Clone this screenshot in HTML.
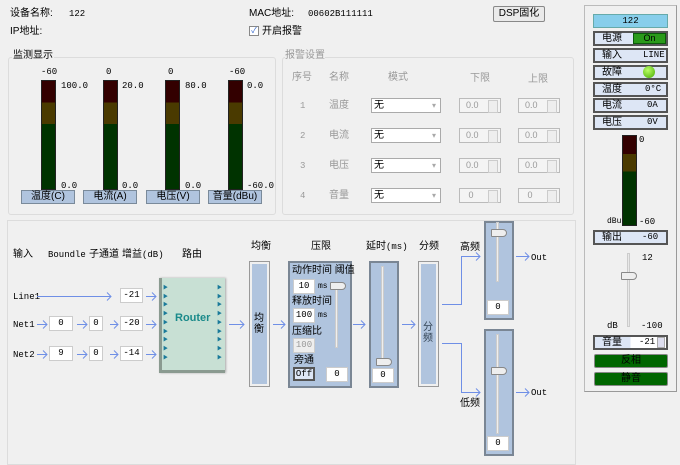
<!DOCTYPE html>
<html><head><meta charset="utf-8"><style>
*{margin:0;padding:0;box-sizing:border-box}
body{width:680px;height:461px;background:#f0f0f0;position:relative;overflow:hidden;font-family:"Liberation Sans","Noto Sans CJK SC",sans-serif;font-size:10px;line-height:12px;color:#000}
.a{position:absolute;white-space:nowrap;line-height:12px}
.m{font-family:"Liberation Mono","Noto Sans CJK SC",monospace;font-size:9px}
.grp{position:absolute;border:1px solid #dcdcdc;border-radius:3px}
.bar{position:absolute;width:15px;border:1px solid #222;background:linear-gradient(#330000 0,#330000 20%,#4a3a00 20%,#4a3a00 40%,#003300 40%)}
.lbtn{position:absolute;height:14px;background:#b0c4de;border:1px solid #7a8a9a;text-align:center;font-size:10px;line-height:12px}
.combo{position:absolute;width:70px;height:15px;background:#fff;border:1px solid #aaa;font-size:10px;line-height:13px;padding-left:2px;color:#000}
.combo:after{content:"▾";position:absolute;right:4px;color:#aaa;font-size:8px}
.spin{position:absolute;width:42px;height:15px;background:#f4f4f4;border:1px solid #bbb;font-size:9px;color:#999;line-height:12px;padding-left:6px}
.spin:after{content:"";position:absolute;right:2px;top:1px;width:8px;height:11px;border:1px solid #ccc;background:#eee}
.g{color:#999}
.row{position:absolute;left:593px;width:75px;height:15px;background:#dde6f5;border:2px solid #555;font-size:10px;line-height:11px;padding-left:7px}
.box{position:absolute;background:#fff;border:1px solid #ccc;height:15px;text-align:center;line-height:13px}
.blue{position:absolute;background:#b0c4de;border:2px solid #7a8694}
.trk{position:absolute;width:3px;background:#e8e8e8;border:1px solid #ccc}
.thumb{position:absolute;width:16px;height:8px;background:#eee;border:1px solid #888;border-radius:1px 4px 4px 1px}
svg{position:absolute;left:0;top:0}
</style></head><body>
<div class="a" style="left:10px;top:8px">设备名称:</div>
<div class="a m" style="left:69px;top:8px">122</div>
<div class="a" style="left:10px;top:26px">IP地址:</div>
<div class="a" style="left:249px;top:8px">MAC地址:</div>
<div class="a m" style="left:308px;top:8px">00602B111111</div>
<div class="a" style="left:249px;top:26px;width:10px;height:10px;border:1px solid #888;background:#fff;font-size:8px;line-height:8px;color:#36c;text-align:center">✓</div>
<div class="a" style="left:262px;top:26px">开启报警</div>
<div class="a" style="left:493px;top:6px;width:52px;height:16px;border:1px solid #888;border-radius:2px;background:#eaeaea;text-align:center;line-height:14px">DSP固化</div>

<div class="grp" style="left:8px;top:57px;width:268px;height:158px"></div>
<div class="a" style="left:12px;top:50px;background:#f0f0f0;padding:0 1px">监测显示</div>
<div class="bar" style="left:41px;top:80px;height:110px"></div>
<div class="bar" style="left:103px;top:80px;height:110px"></div>
<div class="bar" style="left:165px;top:80px;height:110px"></div>
<div class="bar" style="left:228px;top:80px;height:110px"></div>
<div class="a m" style="left:41px;top:66px">-60</div><div class="a m" style="left:61px;top:80px">100.0</div><div class="a m" style="left:61px;top:180px">0.0</div>
<div class="a m" style="left:106px;top:66px">0</div><div class="a m" style="left:122px;top:80px">20.0</div><div class="a m" style="left:122px;top:180px">0.0</div>
<div class="a m" style="left:168px;top:66px">0</div><div class="a m" style="left:185px;top:80px">80.0</div><div class="a m" style="left:185px;top:180px">0.0</div>
<div class="a m" style="left:229px;top:66px">-60</div><div class="a m" style="left:247px;top:80px">0.0</div><div class="a m" style="left:247px;top:180px">-60.0</div>
<div class="lbtn" style="left:21px;top:190px;width:54px">温度(C)</div>
<div class="lbtn" style="left:83px;top:190px;width:54px">电流(A)</div>
<div class="lbtn" style="left:146px;top:190px;width:54px">电压(V)</div>
<div class="lbtn" style="left:208px;top:190px;width:54px">音量(dBu)</div>

<div class="grp" style="left:282px;top:57px;width:292px;height:158px"></div>
<div class="a g" style="left:285px;top:50px;background:#f0f0f0">报警设置</div>
<div class="a g" style="left:292px;top:72px">序号</div><div class="a g" style="left:329px;top:72px">名称</div><div class="a g" style="left:388px;top:72px">模式</div><div class="a g" style="left:470px;top:73px">下限</div><div class="a g" style="left:528px;top:74px">上限</div>
<div class="a g m" style="left:300px;top:100px">1</div><div class="a g" style="left:329px;top:100px">温度</div><div class="combo" style="left:371px;top:98px">无</div><div class="spin" style="left:459px;top:98px">0.0</div><div class="spin" style="left:518px;top:98px">0.0</div>
<div class="a g m" style="left:300px;top:130px">2</div><div class="a g" style="left:329px;top:130px">电流</div><div class="combo" style="left:371px;top:128px">无</div><div class="spin" style="left:459px;top:128px">0.0</div><div class="spin" style="left:518px;top:128px">0.0</div>
<div class="a g m" style="left:300px;top:160px">3</div><div class="a g" style="left:329px;top:160px">电压</div><div class="combo" style="left:371px;top:158px">无</div><div class="spin" style="left:459px;top:158px">0.0</div><div class="spin" style="left:518px;top:158px">0.0</div>
<div class="a g m" style="left:300px;top:190px">4</div><div class="a g" style="left:329px;top:190px">音量</div><div class="combo" style="left:371px;top:188px">无</div><div class="spin" style="left:459px;top:188px">&nbsp;0</div><div class="spin" style="left:518px;top:188px">&nbsp;0</div>

<div class="grp" style="left:584px;top:5px;width:93px;height:387px;border-color:#bbb;border-radius:0;border-right-color:#999;border-bottom-color:#999"></div>
<div class="a m" style="left:593px;top:14px;width:75px;height:14px;background:#87ceeb;border:1px solid #6aa;text-align:center;line-height:12px">122</div>
<div class="row" style="top:31px">电源<span style="position:absolute;left:38px;top:0;width:33px;height:11px;background:#2a9a1a;border:1px solid #0a5a0a;text-align:center;font-size:9px;line-height:9px">On</span></div>
<div class="row" style="top:48px">输入<span class="m" style="position:absolute;left:48px">LINE</span></div>
<div class="row" style="top:65px">故障<span style="position:absolute;left:48px;top:-1px;width:12px;height:12px;border-radius:50%;background:radial-gradient(circle at 40% 35%,#bf6,#4a0)"></span></div>
<div class="row" style="top:82px">温度<span class="m" style="position:absolute;left:50px">0°C</span></div>
<div class="row" style="top:98px">电流<span class="m" style="position:absolute;left:52px">0A</span></div>
<div class="row" style="top:115px">电压<span class="m" style="position:absolute;left:52px">0V</span></div>
<div class="bar" style="left:622px;top:135px;height:91px"></div>
<div class="a m" style="left:639px;top:134px">0</div>
<div class="a m" style="left:607px;top:216px;font-size:8px">dBu</div><div class="a m" style="left:639px;top:216px">-60</div>
<div class="row" style="top:230px">输出<span class="m" style="position:absolute;left:47px">-60</span></div>
<div class="trk" style="left:627px;top:253px;height:74px"></div>
<div class="thumb" style="left:621px;top:272px"></div>
<div class="a m" style="left:642px;top:252px">12</div>
<div class="a m" style="left:607px;top:320px">dB</div><div class="a m" style="left:641px;top:320px">-100</div>
<div class="row" style="top:335px;background:linear-gradient(90deg,#dde6f5 50%,#fff 50%)">音量<span class="m" style="position:absolute;left:44px">-21</span><span style="position:absolute;right:1px;top:0;width:8px;height:11px;border:1px solid #aaa;background:#dde"></span></div>
<div class="a" style="left:594px;top:354px;width:74px;height:14px;background:#006600;border:1px solid #888;border-radius:2px;text-align:center;line-height:12px">反相</div>
<div class="a" style="left:594px;top:372px;width:74px;height:14px;background:#006600;border:1px solid #888;border-radius:2px;text-align:center;line-height:12px">静音</div>

<div class="grp" style="left:7px;top:220px;width:569px;height:245px;border-radius:0"></div>
<div class="a" style="left:13px;top:249px">输入</div>
<div class="a m" style="left:48px;top:249px">Boundle</div>
<div class="a" style="left:89px;top:249px">子通道</div>
<div class="a" style="left:122px;top:249px">增益<span class="m">(dB)</span></div>
<div class="a" style="left:182px;top:249px">路由</div>
<div class="a m" style="left:13px;top:291px">Line1</div>
<div class="a m" style="left:13px;top:319px">Net1</div>
<div class="a m" style="left:13px;top:349px">Net2</div>
<div class="box m" style="left:49px;top:316px;width:24px">0</div><div class="box m" style="left:49px;top:346px;width:24px">9</div>
<div class="box m" style="left:89px;top:316px;width:14px">0</div><div class="box m" style="left:89px;top:346px;width:14px">0</div>
<div class="box m" style="left:120px;top:288px;width:23px">-21</div><div class="box m" style="left:120px;top:316px;width:23px">-20</div><div class="box m" style="left:120px;top:346px;width:23px">-14</div>
<div class="a" style="left:159px;top:278px;width:66px;height:95px;background:#c8e0d4;border-left:3px solid #8a9a90;border-bottom:3px solid #8a9a90;box-shadow:1px 0 2px #aaa"></div>
<div class="a" style="left:163px;top:284px;color:#1a7a9a;font-size:5px;line-height:8.7px">▶<br>▶<br>▶<br>▶<br>▶<br>▶<br>▶<br>▶<br>▶</div>
<div class="a" style="left:217px;top:284px;color:#1a7a9a;font-size:5px;line-height:8.7px">▶<br>▶<br>▶<br>▶<br>▶<br>▶<br>▶<br>▶<br>▶</div>
<div class="a" style="left:175px;top:312px;color:#1a8a8a;font-weight:bold;font-size:11px">Router</div>
<div class="a" style="left:251px;top:241px">均衡</div>
<div class="blue" style="left:249px;top:261px;width:21px;height:126px;border-color:#999;border-width:1px;box-shadow:inset 0 0 0 2px #f0f0f0"></div>
<div class="a" style="left:254px;top:313px;width:12px;white-space:normal;line-height:11px">均衡</div>
<div class="a" style="left:311px;top:241px">压限</div>
<div class="blue" style="left:288px;top:261px;width:64px;height:127px"></div>
<div class="a" style="left:292px;top:265px">动作时间 阈值</div>
<div class="box m" style="left:293px;top:279px;width:22px">10</div><div class="a m" style="left:318px;top:281px;font-size:8px">ms</div>
<div class="a" style="left:292px;top:296px">释放时间</div>
<div class="box m" style="left:293px;top:308px;width:22px">100</div><div class="a m" style="left:318px;top:310px;font-size:8px">ms</div>
<div class="a" style="left:292px;top:326px">压缩比</div>
<div class="box m" style="left:293px;top:338px;width:22px;background:#eee;color:#999">100</div>
<div class="a" style="left:294px;top:355px">旁通</div>
<div class="a m" style="left:293px;top:367px;width:22px;height:14px;border:2px solid #555;background:#dde6f5;text-align:center;line-height:10px">Off</div>
<div class="trk" style="left:335px;top:285px;height:63px;background:#eee"></div>
<div class="thumb" style="left:330px;top:282px"></div>
<div class="box m" style="left:326px;top:367px;width:22px">0</div>
<div class="a" style="left:366px;top:241px">延时<span class="m">(ms)</span></div>
<div class="blue" style="left:369px;top:261px;width:30px;height:127px"></div>
<div class="trk" style="left:381px;top:266px;height:97px;background:#eee"></div>
<div class="thumb" style="left:376px;top:358px"></div>
<div class="box m" style="left:372px;top:368px;width:22px">0</div>
<div class="a" style="left:419px;top:241px">分频</div>
<div class="blue" style="left:418px;top:261px;width:21px;height:126px;border-color:#999;border-width:1px;box-shadow:inset 0 0 0 2px #f0f0f0"></div>
<div class="a" style="left:423px;top:322px;width:12px;white-space:normal;line-height:11px;color:#345">分频</div>
<div class="a" style="left:460px;top:242px">高频</div>
<div class="a" style="left:460px;top:398px">低频</div>
<div class="blue" style="left:484px;top:221px;width:30px;height:99px"></div>
<div class="trk" style="left:496px;top:222px;height:60px;background:#eee"></div>
<div class="thumb" style="left:491px;top:229px"></div>
<div class="box m" style="left:487px;top:300px;width:22px">0</div>
<div class="blue" style="left:484px;top:329px;width:30px;height:127px"></div>
<div class="trk" style="left:496px;top:334px;height:100px;background:#eee"></div>
<div class="thumb" style="left:491px;top:367px"></div>
<div class="box m" style="left:487px;top:436px;width:22px">0</div>
<div class="a m" style="left:531px;top:252px">Out</div>
<div class="a m" style="left:531px;top:387px">Out</div>
<svg width="680" height="461" fill="none" stroke="#6f8fe6" stroke-width="1">
<path d="M37 296.5H111M107 292.5l4 4-4 4"/>
<path d="M37 324.5H47M43 320.5l4 4-4 4M77 324.5H87M83 320.5l4 4-4 4M110 324.5H118M114 320.5l4 4-4 4"/>
<path d="M37 354.5H47M43 350.5l4 4-4 4M77 354.5H87M83 350.5l4 4-4 4M110 354.5H118M114 350.5l4 4-4 4"/>
<path d="M146 296.5H156M152 292.5l4 4-4 4M146 324.5H156M152 320.5l4 4-4 4M146 354.5H156M152 350.5l4 4-4 4"/>
<path d="M229 324.5H244M240 320.5l4 4-4 4M273 324.5H285M281 320.5l4 4-4 4M353 324.5H365M361 320.5l4 4-4 4M402 324.5H415M411 320.5l4 4-4 4"/>
<path d="M442 304.5H461.5V256.5H480M476 252.5l4 4-4 4"/>
<path d="M442 343.5H461.5V392.5H480M476 388.5l4 4-4 4"/>
<path d="M516 256.5H529M525 252.5l4 4-4 4M516 392.5H529M525 388.5l4 4-4 4"/>
</svg>
</body></html>
